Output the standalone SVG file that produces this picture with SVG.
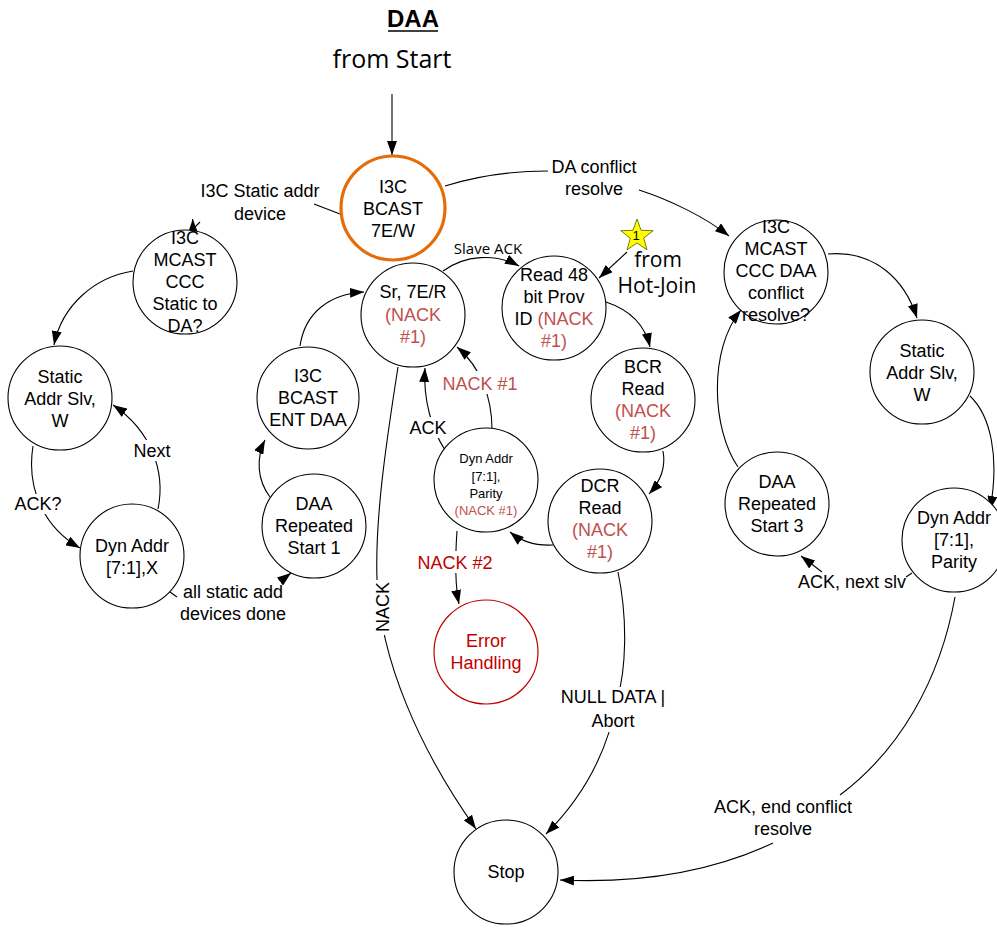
<svg xmlns="http://www.w3.org/2000/svg" width="997" height="928" viewBox="0 0 997 928">
  <style>
    .node { fill: #ffffff; stroke: #000000; stroke-width: 1.1; }
    .start { fill: #ffffff; stroke: #E46C0A; stroke-width: 3.2; }
    .err { fill: #ffffff; stroke: #C00000; stroke-width: 1.2; }
    .t { font-family: "Liberation Sans", Arial, sans-serif; font-size: 18px; fill: #000000; text-anchor: middle; }
    .ts { font-family: "Liberation Sans", Arial, sans-serif; font-size: 13px; fill: #000000; text-anchor: middle; }
    .lbl { font-family: "Liberation Sans", Arial, sans-serif; font-size: 18px; fill: #000000; text-anchor: middle; }
    .alt { font-family: "Open Sans", "Liberation Sans", sans-serif; text-anchor: middle; fill: #000000; }
    text.nk, tspan.nk { fill: #C0504D; }
    text.dr { fill: #C00000; }
    .edge { fill: none; stroke: #000000; stroke-width: 1.1; }
    .arr { fill: none; stroke: #000000; stroke-width: 1.1; marker-end: url(#ah); }
    .bg { fill: #ffffff; }
  </style>
  <defs>
    <marker id="ah" viewBox="0 0 14 10" refX="14" refY="5" markerWidth="14" markerHeight="10" markerUnits="userSpaceOnUse" orient="auto">
      <path d="M0,0 L14,5 L0,10 z" fill="#000000"/>
    </marker>
  </defs>

  <!-- heading -->
  <g id="title">
    <text x="413" y="27" font-family="Liberation Sans, Arial, sans-serif" font-size="24" font-weight="bold" text-anchor="middle">DAA</text>
    <line x1="388" y1="31" x2="438" y2="31" stroke="#000000" stroke-width="1.6"/>
    <text class="alt" x="392" y="68" font-size="25">from Start</text>
  </g>

  <!-- transitions -->
  <g id="connectors">
    <path class="arr" d="M392,94 L392,155"/>

    <!-- static address path -->
    <path class="edge" d="M340,214 L314,204"/>
    <path class="edge" d="M200,222 L196,226"/>
    <path class="arr" d="M196,226 Q193,232 192.7,219"/>
    <path class="arr" d="M133,271 C95,277 62,305 54,345"/>
    <path class="arr" d="M33,446 C26,490 45,528 80,548"/>
    <path class="arr" d="M158,509 C166,470 150,430 113,405"/>
    <path class="edge" d="M170,592 L177,597"/>
    <path class="arr" d="M282,580 L291,573"/>
    <path class="arr" d="M270,497 C257,480 256,458 265,440"/>
    <path class="arr" d="M300,346 C305,312 330,294 364,292"/>

    <!-- DAA main loop -->
    <path class="arr" d="M443,271 C465,255 495,253 519,266"/>
    <path class="arr" d="M627,252 L599,278"/>
    <path class="arr" d="M606,302 C630,310 645,325 650,347"/>
    <path class="arr" d="M663,451 C666,467 660,482 649,494"/>
    <path class="arr" d="M553,545 C535,546 522,542 510,532"/>
    <path class="arr" d="M492,429 C492,400 482,368 457,347"/>
    <path class="arr" d="M445,450 C432,430 423,400 425,368"/>
    <path class="arr" d="M457,531 C455,560 455,585 459,604"/>
    <path class="arr" d="M398,367 C385,450 375,520 377,580 C380,660 420,750 476,829"/>
    <path class="arr" d="M618,572 C628,620 626,670 617,700 C608,750 585,795 546,834"/>

    <!-- conflict resolve path -->
    <path class="edge" d="M445,186 C480,175 515,171 548,171"/>
    <path class="arr" d="M639,190 C670,200 705,217 729,236"/>
    <path class="arr" d="M828,254 C875,250 905,280 917,318"/>
    <path class="arr" d="M970,396 C990,415 1000,455 990,510"/>
    <path class="edge" d="M906,577 L912,573"/>
    <path class="arr" d="M822,572 L801,556"/>
    <path class="arr" d="M738,467 C712,430 708,350 741,310"/>
    <path class="edge" d="M955,597 C940,680 900,750 840,795"/>
    <path class="arr" d="M773,843 C720,868 650,884 560,880"/>
  </g>

  <!-- transition labels -->
  <g id="labels">
    <text class="lbl" x="260" y="197">I3C Static addr</text>
    <text class="lbl" x="260" y="220">device</text>

    <rect class="bg" x="14" y="494" width="50" height="20"/>
    <text class="lbl" x="38" y="510">ACK?</text>
    <rect class="bg" x="131" y="440" width="43" height="21"/>
    <text class="lbl" x="152" y="457">Next</text>
    <text class="lbl" x="233" y="598">all static add</text>
    <text class="lbl" x="233" y="620">devices done</text>

    <text class="alt" x="488" y="254" font-size="15">Slave ACK</text>
    <text class="alt" x="658" y="267" font-size="21">from</text>
    <text class="alt" x="657" y="293" font-size="21">Hot-Join</text>

    <rect class="bg" x="441" y="371" width="78" height="23"/>
    <text class="lbl nk" x="480" y="390">NACK #1</text>
    <rect class="bg" x="407" y="417" width="42" height="21"/>
    <text class="lbl" x="428" y="434">ACK</text>
    <rect class="bg" x="415" y="551" width="80" height="22"/>
    <text class="lbl dr" x="455" y="569">NACK #2</text>
    <rect class="bg" x="373" y="580" width="20" height="55"/>
    <text class="lbl" x="0" y="0" transform="translate(389,607) rotate(-90)">NACK</text>
    <rect class="bg" x="556" y="687" width="114" height="45"/>
    <text class="lbl" x="613" y="703">NULL DATA |</text>
    <text class="lbl" x="613" y="727">Abort</text>

    <text class="lbl" x="594" y="173">DA conflict</text>
    <text class="lbl" x="594" y="195">resolve</text>
    <text class="lbl" x="852" y="588">ACK, next slv</text>
    <text class="lbl" x="783" y="813">ACK, end conflict</text>
    <text class="lbl" x="783" y="835">resolve</text>
  </g>

  <!-- hot-join marker -->
  <g id="hotjoin-star">
    <polygon points="637,219 641.1,230.3 653.2,230.7 643.7,238.2 647,249.8 637,243 627,249.8 630.3,238.2 620.8,230.7 632.9,230.3" fill="#FFFF00" stroke="#555500" stroke-width="0.8"/>
    <text x="636" y="240" font-family="Liberation Sans, Arial, sans-serif" font-size="13" text-anchor="middle">1</text>
  </g>

  <!-- states -->
  <g id="n-bcast">
    <circle class="start" cx="393" cy="208" r="52"/>
    <text class="t" x="393" y="193">I3C</text>
    <text class="t" x="393" y="215">BCAST</text>
    <text class="t" x="393" y="237">7E/W</text>
  </g>

  <g id="n-mcast-static">
    <circle class="node" cx="185" cy="282" r="52"/>
    <text class="t" x="185" y="244">I3C</text>
    <text class="t" x="185" y="266">MCAST</text>
    <text class="t" x="185" y="288">CCC</text>
    <text class="t" x="185" y="310">Static to</text>
    <text class="t" x="185" y="332">DA?</text>
  </g>

  <g id="n-static-left">
    <circle class="node" cx="60" cy="398" r="52"/>
    <text class="t" x="60" y="383">Static</text>
    <text class="t" x="60" y="405">Addr Slv,</text>
    <text class="t" x="60" y="427">W</text>
  </g>

  <g id="n-dyn-x">
    <circle class="node" cx="132" cy="556" r="52"/>
    <text class="t" x="132" y="552">Dyn Addr</text>
    <text class="t" x="132" y="574">[7:1],X</text>
  </g>

  <g id="n-ent-daa">
    <circle class="node" cx="308" cy="398" r="51"/>
    <text class="t" x="308" y="382">I3C</text>
    <text class="t" x="308" y="404">BCAST</text>
    <text class="t" x="308" y="426">ENT DAA</text>
  </g>

  <g id="n-rs1">
    <circle class="node" cx="314" cy="526" r="52"/>
    <text class="t" x="314" y="510">DAA</text>
    <text class="t" x="314" y="532">Repeated</text>
    <text class="t" x="314" y="554">Start 1</text>
  </g>

  <g id="n-sr">
    <circle class="node" cx="413" cy="315" r="52"/>
    <text class="t" x="413" y="298">Sr, 7E/R</text>
    <text class="t nk" x="413" y="321">(NACK</text>
    <text class="t nk" x="413" y="343">#1)</text>
  </g>

  <g id="n-pid">
    <circle class="node" cx="554" cy="308" r="52"/>
    <text class="t" x="554" y="281">Read 48</text>
    <text class="t" x="554" y="303">bit Prov</text>
    <text class="t" x="554" y="325">ID <tspan class="nk">(NACK</tspan></text>
    <text class="t nk" x="554" y="347">#1)</text>
  </g>

  <g id="n-bcr">
    <circle class="node" cx="643" cy="400" r="52"/>
    <text class="t" x="643" y="373">BCR</text>
    <text class="t" x="643" y="395">Read</text>
    <text class="t nk" x="643" y="417">(NACK</text>
    <text class="t nk" x="643" y="439">#1)</text>
  </g>

  <g id="n-dcr">
    <circle class="node" cx="600" cy="521" r="52"/>
    <text class="t" x="600" y="492">DCR</text>
    <text class="t" x="600" y="514">Read</text>
    <text class="t nk" x="600" y="536">(NACK</text>
    <text class="t nk" x="600" y="558">#1)</text>
  </g>

  <g id="n-dyn-parity">
    <circle class="node" cx="486" cy="480" r="52"/>
    <text class="ts" x="486" y="463">Dyn Addr</text>
    <text class="ts" x="486" y="481">[7:1],</text>
    <text class="ts" x="486" y="498">Parity</text>
    <text class="ts nk" x="486" y="515">(NACK #1)</text>
  </g>

  <g id="n-error">
    <circle class="err" cx="486" cy="652" r="52"/>
    <text class="t dr" x="486" y="647">Error</text>
    <text class="t dr" x="486" y="669">Handling</text>
  </g>

  <g id="n-stop">
    <circle class="node" cx="506" cy="872" r="52"/>
    <text class="t" x="506" y="878">Stop</text>
  </g>

  <g id="n-mcast-conflict">
    <circle class="node" cx="776" cy="272" r="52"/>
    <text class="t" x="776" y="233">I3C</text>
    <text class="t" x="776" y="255">MCAST</text>
    <text class="t" x="776" y="277">CCC DAA</text>
    <text class="t" x="776" y="299">conflict</text>
    <text class="t" x="776" y="321">resolve?</text>
  </g>

  <g id="n-static-right">
    <circle class="node" cx="922" cy="372" r="52"/>
    <text class="t" x="922" y="357">Static</text>
    <text class="t" x="922" y="379">Addr Slv,</text>
    <text class="t" x="922" y="401">W</text>
  </g>

  <g id="n-rs3">
    <circle class="node" cx="777" cy="504" r="52"/>
    <text class="t" x="777" y="488">DAA</text>
    <text class="t" x="777" y="510">Repeated</text>
    <text class="t" x="777" y="532">Start 3</text>
  </g>

  <g id="n-dyn-right">
    <circle class="node" cx="954" cy="540" r="52"/>
    <text class="t" x="954" y="524">Dyn Addr</text>
    <text class="t" x="954" y="546">[7:1],</text>
    <text class="t" x="954" y="568">Parity</text>
  </g>
</svg>
